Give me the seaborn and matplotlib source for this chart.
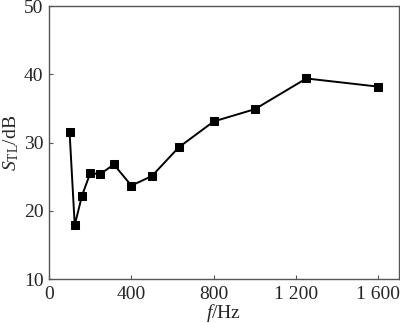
import matplotlib
matplotlib.use('Agg')
import matplotlib.pyplot as plt
import seaborn as sns
import pandas as pd

freq_hz = [100, 125, 160, 200, 250, 315, 400, 500, 630, 800, 1000, 1250, 1600]
stl_db = [31.5, 17.9, 22.2, 25.5, 25.4, 26.8, 23.7, 25.1, 29.3, 33.1, 34.9, 39.4, 38.2]
x_ticks = [0, 400, 800, 1200, 1600]
x_tick_labels = ['0', '400', '800', '1 200', '1 600']
y_ticks = [10, 20, 30, 40, 50]

sns.set_style('ticks')
plt.rcParams['font.family'] = ['Liberation Serif', 'DejaVu Serif']
plt.rcParams['mathtext.fontset'] = 'custom'
plt.rcParams['mathtext.rm'] = 'Liberation Serif'
plt.rcParams['mathtext.it'] = 'Liberation Serif:italic'

df = pd.DataFrame({'f': freq_hz, 'stl': stl_db})

fig = plt.figure(figsize=(4, 3.23), dpi=100)
ax = fig.add_axes([0.1225, 0.136, 0.875, 0.845])
sns.lineplot(data=df, x='f', y='stl', ax=ax, color='black', linewidth=1.4,
             marker='s', markersize=5.5, markeredgecolor='black')

ax.set_xlim(0, 1700)
ax.set_ylim(10, 50)
ax.set_xticks(x_ticks)
ax.set_xticklabels(x_tick_labels)
ax.set_yticks(y_ticks)
ax.tick_params(direction='in', length=3, labelsize=14, color='#555555', width=0.8)
ax.tick_params(axis='x', pad=5)
ax.tick_params(axis='y', pad=4)
for s in ax.spines.values():
    s.set_color('#555555')
    s.set_linewidth(1.0)
ax.set_xlabel(r'$f$/Hz', fontsize=14, labelpad=-1)
ax.set_ylabel(r'$S_{\mathrm{TL}}$/dB', fontsize=14, labelpad=2)

fig.savefig('out.png', dpi=100)
